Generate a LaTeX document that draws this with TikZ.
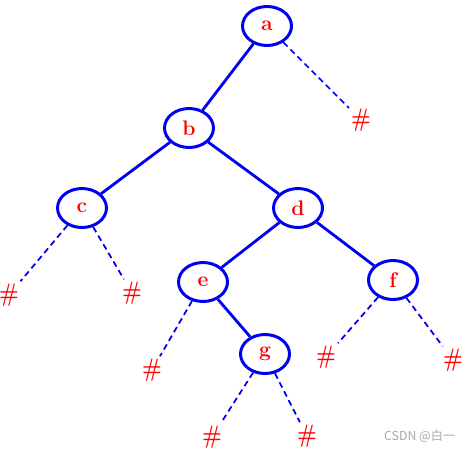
\documentclass[tikz,border=0pt]{standalone}
\usepackage{fontspec}
\usepackage{tikz}
\usetikzlibrary{shapes.geometric}
\newfontfamily\cjk{Noto Sans CJK SC}
\definecolor{treeblue}{HTML}{0000F0}
\definecolor{labred}{HTML}{FF0000}
\definecolor{mark}{HTML}{A8A8A8}
\tikzset{
  vert/.style={ellipse, draw=treeblue, line width=1.7pt, minimum width=0.98cm, minimum height=0.78cm, inner sep=0pt, text=labred, font=\bfseries\large},
  nil/.style={text=labred, font=\bfseries\large, inner sep=1pt, yscale=1.2},
  edge/.style={draw=treeblue, line width=1.6pt},
  nilEdge/.style={draw=treeblue, line width=1pt, dash pattern=on 3.4pt off 2.3pt}
}

\begin{document}
\begin{tikzpicture}[x=0.02cm, y=-0.02cm]
  \useasboundingbox (0,0) rectangle (463,450);
  % tree vertices
  \node[vert] (a) at (267,26) {a};
  \node[vert] (b) at (189,128) {b};
  \node[vert] (c) at (82,208) {c};
  \node[vert] (d) at (298,208) {d};
  \node[vert] (e) at (203,282) {e};
  \node[vert] (f) at (393,280) {f};
  \node[vert] (g) at (265,354) {g};
  % empty children
  \node[nil] (na)  at (361,120) {\#};
  \node[nil] (nc1) at (9,295) {\#};
  \node[nil] (nc2) at (132,293) {\#};
  \node[nil] (ne)  at (152,370) {\#};
  \node[nil] (nf1) at (326,357) {\#};
  \node[nil] (nf2) at (453,360) {\#};
  \node[nil] (ng1) at (212,437) {\#};
  \node[nil] (ng2) at (307,436) {\#};
  % edges
  \draw[edge] (a) -- (b);
  \draw[edge] (b) -- (c);
  \draw[edge] (b) -- (d);
  \draw[edge] (d) -- (e);
  \draw[edge] (d) -- (f);
  \draw[edge] (e) -- (g);
  \draw[nilEdge] (a) -- (na);
  \draw[nilEdge] (c) -- (nc1);
  \draw[nilEdge] (c) -- (nc2);
  \draw[nilEdge] (e) -- (ne);
  \draw[nilEdge] (f) -- (nf1);
  \draw[nilEdge] (f) -- (nf2);
  \draw[nilEdge] (g) -- (ng1);
  \draw[nilEdge] (g) -- (ng2);
  \node[text=mark, font=\cjk\scriptsize, anchor=west] (wm) at (378,436) {CSDN @白一};
\end{tikzpicture}
\end{document}
